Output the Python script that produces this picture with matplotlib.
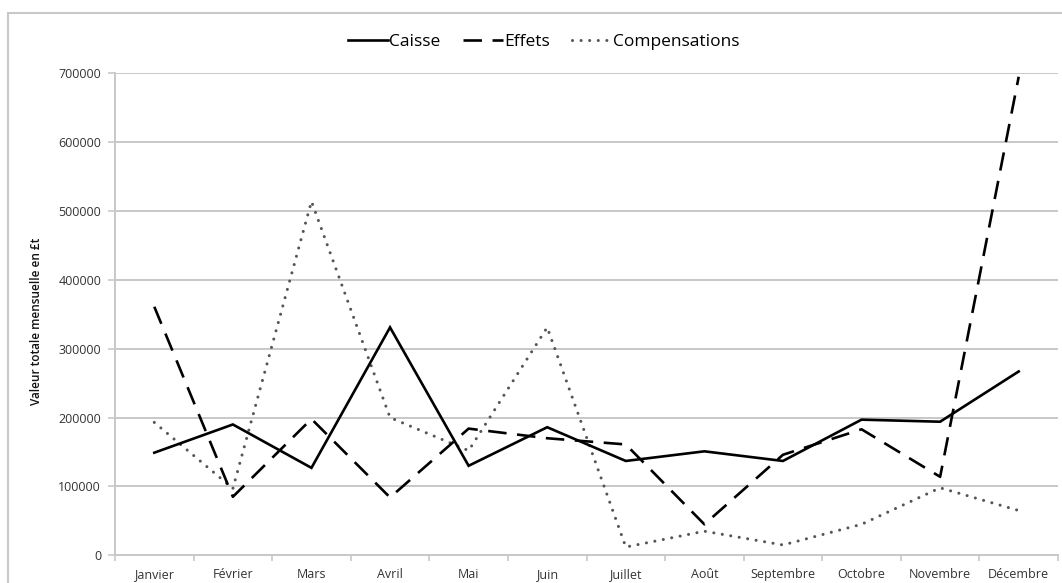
import matplotlib
matplotlib.use('Agg')
import matplotlib.pyplot as plt
import matplotlib.patches as mpatches

plt.rcParams['font.family'] = ['Open Sans', 'DejaVu Sans']

# ── data ──────────────────────────────────────────────
months = ['Janvier', 'Février', 'Mars', 'Avril', 'Mai', 'Juin', 'Juillet',
          'Août', 'Septembre', 'Octobre', 'Novembre', 'Décembre']
caisse = [149000, 190000, 127000, 331000, 130000, 186000,
          137000, 151000, 137000, 197000, 194000, 267000]
effets = [361000, 85000, 198000, 84000, 184000, 170000,
          161000, 45000, 146000, 183000, 114000, 695000]
compensations = [193000, 97000, 514000, 200000, 152000, 331000,
                 12000, 35000, 15000, 45000, 98000, 65000]
yticks = [0, 100000, 200000, 300000, 400000, 500000, 600000, 700000]

GRID = '#C8C8C8'
DARK = '#000000'
DOT = '#555555'

fig = plt.figure(figsize=(10.62, 5.83), dpi=100)
fig.patch.set_facecolor('white')
ax = fig.add_axes([115 / 1062, 1 - 555.3 / 583, (1058 - 115) / 1062, (555.3 - 73.3) / 583])

# outer chart frame (Excel style)
fig.patches.append(mpatches.Rectangle(
    (8 / 1062, -0.1), 1.2, 1.1 - 13 / 583, transform=fig.transFigure,
    facecolor='none', edgecolor=GRID, linewidth=1.5, zorder=0))

x = list(range(len(months)))
ax.plot(x, caisse, color=DARK, linewidth=1.9, label='Caisse',
        solid_joinstyle='miter', zorder=4)
ax.plot(x, effets, color=DARK, linewidth=1.9, linestyle=(0, (7, 4)),
        label='Effets', zorder=3)
ax.plot(x, compensations, color=DOT, linewidth=2.2, linestyle=(0, (0.01, 2.8)),
        dash_capstyle='round', label='Compensations', zorder=2)

ax.set_xlim(-0.5, len(months) - 0.5)
ax.set_ylim(0, 700000)
ax.set_yticks(yticks)
ax.set_yticklabels([str(v) for v in yticks])
ax.set_xticks(x)
ax.set_xticklabels(months)
ax.set_xticks([i - 0.5 for i in range(len(months) + 1)], minor=True)

ax.grid(axis='y', color=GRID, linewidth=1.4, zorder=0)
ax.set_axisbelow(True)
for side in ['top', 'right']:
    ax.spines[side].set_visible(False)
for side in ['left', 'bottom']:
    ax.spines[side].set_color(GRID)
    ax.spines[side].set_linewidth(1.4)

ax.tick_params(axis='y', length=5, width=1.2, color=GRID, labelsize=9,
               labelcolor='#333333', pad=5)
ax.tick_params(axis='x', which='major', length=0, labelsize=9,
               labelcolor='#333333', pad=9)
ax.tick_params(axis='x', which='minor', length=4, width=1.2, color=GRID)

ax.set_ylabel('Valeur totale mensuelle en £t', fontsize=8.5, color='#111111',
              fontweight='semibold')
ax.yaxis.set_label_coords(-0.0765, 0.485)

fig.legend(loc='center', bbox_to_anchor=(544 / 1062, 1 - 42 / 583), ncol=3,
           frameon=False, fontsize=12.5, handlelength=2.3, handletextpad=0.05,
           columnspacing=1.3)

fig.savefig('out.png', dpi=100, facecolor='white')
